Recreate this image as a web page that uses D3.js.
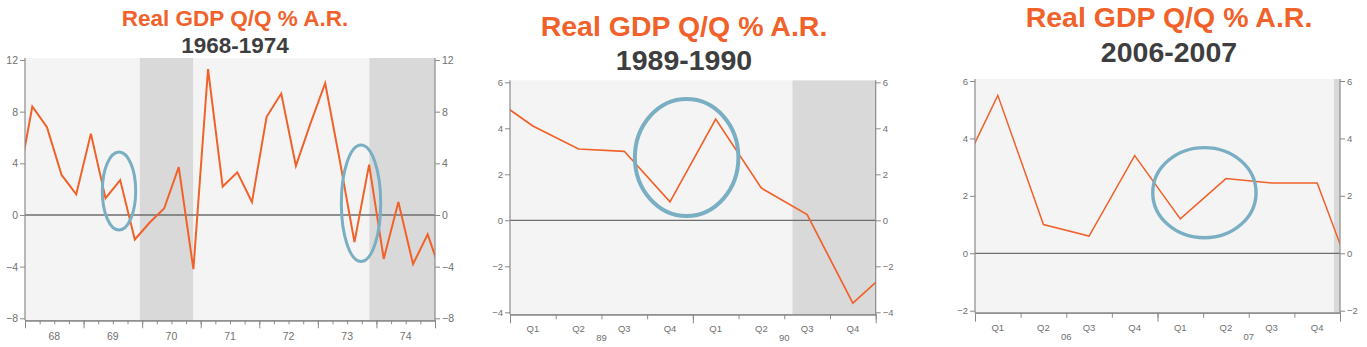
<!DOCTYPE html>
<html>
<head>
<meta charset="utf-8">
<script src="https://cdn.jsdelivr.net/npm/d3@7"></script>
<style>
  html, body { margin: 0; padding: 0; background: #ffffff; }
  svg { display: block; }
  text { font-family: "Liberation Sans", Arial, Helvetica, sans-serif; }
</style>
</head>
<body>
<svg id="chart" width="1367" height="347"></svg>
<script>
// ---- Data -------------------------------------------------------------
// Real GDP, quarter-over-quarter % change at annual rate.
// Each series starts one quarter before the window and ends one quarter
// after it, so the line runs to the plot edges.
const gdp1968_1974Start = [1967, 4];
const gdp1968_1974 = [
  2.2,
  8.4, 6.8, 3.1, 1.6,
  6.3, 1.3, 2.7, -1.9,
  -0.6, 0.5, 3.7, -4.2,
  11.3, 2.2, 3.3, 1.0,
  7.6, 9.4, 3.8, 7.1,
  10.2, 4.2, -2.1, 3.9,
  -3.4, 1.0, -3.8, -1.5,
  -4.8
];
const gdp1989_1990Start = [1988, 4];
const gdp1989_1990 = [5.5, 4.1, 3.1, 3.0, 0.8, 4.4, 1.4, 0.25, -3.6, -1.8];
const gdp2006_2007Start = [2005, 4];
const gdp2006_2007 = [2.2, 5.5, 1.0, 0.6, 3.4, 1.2, 2.6, 2.45, 2.45, -1.8];

// Recession periods (fractional years)
const recessions1968_1974 = [[1969.96, 1970.87], [1973.88, 1975.25]];
const recessions1989_1990 = [[1990.545, 1991.25]];
const recessions2006_2007 = [[2007.967, 2009.5]];

// Highlighted episodes: [centre year, centre value, half-width in years, half-height in %]
const circles1968_1974 = [[1969.605, 1.86, 0.285, 3.02], [1973.737, 0.91, 0.336, 4.51]];
const circles1989_1990 = [[1989.966, 2.73, 0.283, 2.54]];
const circles2006_2007 = [[2007.257, 2.11, 0.283, 1.57]];

// Axis ticks and labels
const yTicks1968_1974 = [-8, -4, 0, 4, 8, 12];
const yTicks1989_1990 = [-4, -2, 0, 2, 4, 6];
const yTicks2006_2007 = [-2, 0, 2, 4, 6];
const yearLabels1968_1974 = ["68", "69", "70", "71", "72", "73", "74"];
const yearLabels1989_1990 = ["89", "90"];
const yearLabels2006_2007 = ["06", "07"];
const quarterLabels = ["Q1", "Q2", "Q3", "Q4"];

const titleText = "Real GDP Q/Q % A.R.";
const subtitles = ["1968-1974", "1989-1990", "2006-2007"];

// ---- Layout -----------------------------------------------------------
const ORANGE = "#f0622a";
const CIRCLE = "#7aafc3";
const AXIS = "#8a8a8a";

const panels = [
  {
    years: [1968, 1975], yDomain: [-8, 12], left: 25, right: 435, top: 60, bottom: 318.3,
    start: gdp1968_1974Start, values: gdp1968_1974, recessions: recessions1968_1974,
    circles: circles1968_1974, yTicks: yTicks1968_1974, yearLabels: yearLabels1968_1974,
    quarterly: false, subtitle: subtitles[0],
    titleX: 235, titleY: 25.7, subY: 53.3, titleSize: 22.5,
    tickSize: 10.5, lineWidth: 2, circleWidth: 3,
    xLabelY: 340, yearLabelY: 340
  },
  {
    years: [1989, 1991], yDomain: [-4, 6], left: 510, right: 875.7, top: 82.3, bottom: 312.3,
    start: gdp1989_1990Start, values: gdp1989_1990, recessions: recessions1989_1990,
    circles: circles1989_1990, yTicks: yTicks1989_1990, yearLabels: yearLabels1989_1990,
    quarterly: true, subtitle: subtitles[1],
    titleX: 684, titleY: 36, subY: 70, titleSize: 28.5,
    tickSize: 9.5, lineWidth: 1.7, circleWidth: 4,
    xLabelY: 332, yearLabelY: 341
  },
  {
    years: [2006, 2008], yDomain: [-2, 6], left: 975, right: 1340, top: 81, bottom: 310.7,
    start: gdp2006_2007Start, values: gdp2006_2007, recessions: recessions2006_2007,
    circles: circles2006_2007, yTicks: yTicks2006_2007, yearLabels: yearLabels2006_2007,
    quarterly: true, subtitle: subtitles[2],
    titleX: 1169, titleY: 26.7, subY: 61.7, titleSize: 28.5,
    tickSize: 9.5, lineWidth: 1.5, circleWidth: 3.4,
    xLabelY: 330.5, yearLabelY: 340
  }
];

const svg = d3.select("#chart");

panels.forEach((p, i) => {
  const g = svg.append("g");
  const x = d3.scaleLinear().domain(p.years).range([p.left, p.right]);
  const y = d3.scaleLinear().domain(p.yDomain).range([p.bottom, p.top]);
  const axisY = p.bottom + 2;

  // Titles
  g.append("text")
    .attr("x", p.titleX).attr("y", p.titleY)
    .attr("text-anchor", "middle")
    .attr("font-size", p.titleSize).attr("font-weight", "bold")
    .attr("fill", ORANGE)
    .text(titleText);
  g.append("text")
    .attr("x", p.titleX).attr("y", p.subY)
    .attr("text-anchor", "middle")
    .attr("font-size", p.titleSize).attr("font-weight", "bold")
    .attr("fill", "#3e3e40")
    .text(p.subtitle);

  // Plot background
  g.append("rect")
    .attr("x", p.left).attr("y", p.top - 2)
    .attr("width", p.right - p.left).attr("height", axisY - p.top + 2)
    .attr("fill", "#f4f4f4");

  const clipId = "clip" + i;
  g.append("clipPath").attr("id", clipId)
    .append("rect")
    .attr("x", p.left).attr("y", p.top - 2)
    .attr("width", p.right - p.left).attr("height", axisY - p.top + 2);

  const plot = g.append("g").attr("clip-path", `url(#${clipId})`);

  // Recession shading
  plot.selectAll("rect.rec").data(p.recessions).join("rect")
    .attr("class", "rec")
    .attr("x", d => x(d[0]))
    .attr("y", p.top - 2)
    .attr("width", d => x(d[1]) - x(d[0]))
    .attr("height", axisY - p.top + 2)
    .attr("fill", "#d9d9d9");

  // Zero line
  plot.append("line")
    .attr("x1", p.left).attr("x2", p.right)
    .attr("y1", y(0)).attr("y2", y(0))
    .attr("stroke", "#6e6e6e").attr("stroke-width", 1.3);

  // GDP line, points at mid-quarter
  const points = p.values.map((v, k) => {
    const qIndex = (p.start[1] - 1) + k;
    const t = p.start[0] + (qIndex + 0.5) / 4;
    return [t, v];
  });
  plot.append("path")
    .datum(points)
    .attr("fill", "none")
    .attr("stroke", ORANGE)
    .attr("stroke-width", p.lineWidth)
    .attr("stroke-linejoin", "miter")
    .attr("d", d3.line().x(d => x(d[0])).y(d => y(d[1])));

  // Highlight ellipses
  g.selectAll("ellipse").data(p.circles).join("ellipse")
    .attr("cx", d => x(d[0]))
    .attr("cy", d => y(d[1]))
    .attr("rx", d => x(p.years[0] + d[2]) - x(p.years[0]))
    .attr("ry", d => y(0) - y(d[3]))
    .attr("fill", "none")
    .attr("stroke", CIRCLE)
    .attr("stroke-width", p.circleWidth);

  // Left and right value axes
  const styleAxis = sel => {
    sel.selectAll("path.domain").attr("stroke", AXIS).attr("stroke-width", 1.2);
    sel.selectAll(".tick line").attr("stroke", AXIS).attr("stroke-width", 1);
    sel.selectAll(".tick text")
      .attr("fill", "#707070")
      .attr("font-size", p.tickSize)
      .attr("font-family", "'Liberation Sans', Arial, sans-serif");
  };

  g.append("g")
    .attr("transform", `translate(${p.left},0)`)
    .call(d3.axisLeft(y).tickValues(p.yTicks).tickSize(5).tickSizeOuter(0).tickPadding(2))
    .call(styleAxis)
    .select("path.domain").attr("d", `M0,${p.top - 2}V${axisY}`);

  g.append("g")
    .attr("transform", `translate(${p.right},0)`)
    .call(d3.axisRight(y).tickValues(p.yTicks).tickSize(5).tickSizeOuter(0).tickPadding(2))
    .call(styleAxis)
    .select("path.domain").attr("d", `M0,${p.top - 2}V${axisY}`);

  // Bottom time axis: quarter ticks and longer year ticks
  const nYears = p.years[1] - p.years[0];
  const quarterTicks = d3.range(0, nYears * 4 + 1).map(k => p.years[0] + k / 4);
  const yearTicks = d3.range(0, nYears + 1).map(k => p.years[0] + k);

  const bottomAxis = g.append("g").attr("transform", `translate(0,${axisY})`);
  bottomAxis.append("g")
    .call(d3.axisBottom(x).tickValues(quarterTicks).tickSize(p.quarterly ? 5 : 4).tickSizeOuter(0).tickFormat(""))
    .call(styleAxis);
  bottomAxis.append("g")
    .call(d3.axisBottom(x).tickValues(yearTicks).tickSize(p.quarterly ? 9 : 8).tickSizeOuter(0).tickFormat(""))
    .call(styleAxis);

  // Year labels at mid-year
  g.selectAll("text.year").data(p.yearLabels).join("text")
    .attr("class", "year")
    .attr("x", (d, k) => x(p.years[0] + k + 0.5))
    .attr("y", p.yearLabelY)
    .attr("text-anchor", "middle")
    .attr("font-size", p.tickSize)
    .attr("fill", "#707070")
    .text(d => d);

  // Quarter labels at mid-quarter
  if (p.quarterly) {
    const qData = d3.range(0, nYears * 4).map(k => ({ t: p.years[0] + (k + 0.5) / 4, label: quarterLabels[k % 4] }));
    g.selectAll("text.quarter").data(qData).join("text")
      .attr("class", "quarter")
      .attr("x", d => x(d.t))
      .attr("y", p.xLabelY)
      .attr("text-anchor", "middle")
      .attr("font-size", p.tickSize)
      .attr("fill", "#707070")
      .text(d => d.label);
  }
});
</script>
</body>
</html>
